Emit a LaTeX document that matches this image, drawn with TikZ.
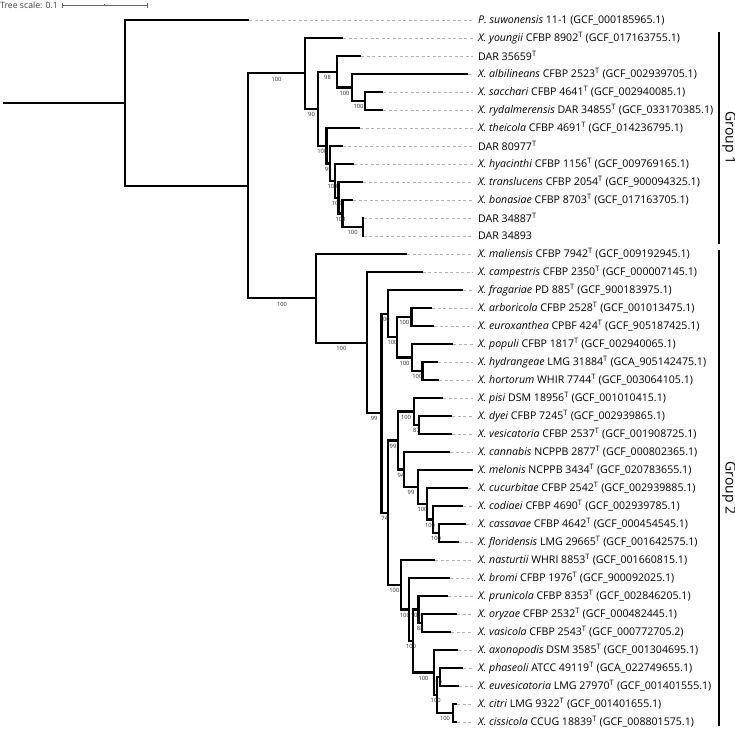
\documentclass[tikz,border=0pt]{standalone}
\usepackage{fontspec}
\setmainfont{Open Sans}
\newcommand\Tsup{\textsuperscript{T}}
\begin{document}
\begin{tikzpicture}[x=1pt,y=-1pt,
  br/.style={line width=2.2pt, black},
  dsh/.style={gray!60, line width=0.6pt, dash pattern=on 3pt off 2.5pt, shorten >=5pt},
  tip/.style={anchor=west, inner sep=0pt, font=\fontsize{10.6}{12}\selectfont},
  bs/.style={font=\fontsize{5.8}{6}\selectfont, text=black!85, inner sep=0pt, anchor=north, yshift=-3.3pt},
  grp/.style={font=\fontsize{14}{16}\selectfont, rotate=-90, inner sep=0pt},
  gbar/.style={line width=1.6pt, black}]
\useasboundingbox (0,0) rectangle (735,729);
\newcommand\brc[2]{\draw[br] (#1) |- (#2);}
\newcommand\bsv[3]{\path (#1 |- #2) -- node[bs]{#3} (#2);}
% ---- scale bar
\node[anchor=west, inner sep=0pt, font=\fontsize{8.7}{10}\selectfont, text=black!75] (scl) at (0,5) {Tree scale: 0.1};
\coordinate (sa) at (62,5); \coordinate (sb) at (147,5); \coordinate (sm) at (104.5,5);
\draw[gray!80!black, line width=0.7pt] (sa) -- (sb);
\draw[gray!80!black, line width=0.7pt] ([yshift=2.5pt]sa) -- ([yshift=-2.5pt]sa);
\draw[gray!80!black, line width=0.7pt] ([yshift=2.5pt]sb) -- ([yshift=-2.5pt]sb);
\draw[gray!80!black, line width=0.6pt] ([yshift=1.2pt]sm) -- ([yshift=-1.2pt]sm);
% ---- tips and labels
\foreach \n/\tx/\lab [count=\i from 0] in {
 t0/249/{\textit{P. suwonensis} 11-1 (GCF\_000185965.1)},
 t1/343/{\textit{X. youngii} CFBP 8902\Tsup{} (GCF\_017163755.1)},
 t2/361/{DAR 35659\Tsup},
 t3/468/{\textit{X. albilineans} CFBP 2523\Tsup{} (GCF\_002939705.1)},
 t4/383/{\textit{X. sacchari} CFBP 4641\Tsup{} (GCF\_002940085.1)},
 t5/383/{\textit{X. rydalmerensis} DAR 34855\Tsup{} (GCF\_033170385.1)},
 t6/360/{\textit{X. theicola} CFBP 4691\Tsup{} (GCF\_014236795.1)},
 t7/342.7/{DAR 80977\Tsup},
 t8/354/{\textit{X. hyacinthi} CFBP 1156\Tsup{} (GCF\_009769165.1)},
 t9/363/{\textit{X. translucens} CFBP 2054\Tsup{} (GCF\_900094325.1)},
 t10/353/{\textit{X. bonasiae} CFBP 8703\Tsup{} (GCF\_017163705.1)},
 t11/363.5/{DAR 34887\Tsup},
 t12/363.5/{DAR 34893},
 t13/407/{\textit{X. maliensis} CFBP 7942\Tsup{} (GCF\_009192945.1)},
 t14/422.7/{\textit{X. campestris} CFBP 2350\Tsup{} (GCF\_000007145.1)},
 t15/463/{\textit{X. fragariae} PD 885\Tsup{} (GCF\_900183975.1)},
 t16/432/{\textit{X. arboricola} CFBP 2528\Tsup{} (GCF\_001013475.1)},
 t17/434/{\textit{X. euroxanthea} CPBF 424\Tsup{} (GCF\_905187425.1)},
 t18/453/{\textit{X. populi} CFBP 1817\Tsup{} (GCF\_002940065.1)},
 t19/438/{\textit{X. hydrangeae} LMG 31884\Tsup{} (GCA\_905142475.1)},
 t20/439/{\textit{X. hortorum} WHIR 7744\Tsup{} (GCF\_003064105.1)},
 t21/443/{\textit{X. pisi} DSM 18956\Tsup{} (GCF\_001010415.1)},
 t22/452/{\textit{X. dyei} CFBP 7245\Tsup{} (GCF\_002939865.1)},
 t23/452/{\textit{X. vesicatoria} CFBP 2537\Tsup{} (GCF\_001908725.1)},
 t24/450/{\textit{X. cannabis} NCPPB 2877\Tsup{} (GCF\_000802365.1)},
 t25/473/{\textit{X. melonis} NCPPB 3434\Tsup{} (GCF\_020783655.1)},
 t26/468/{\textit{X. cucurbitae} CFBP 2542\Tsup{} (GCF\_002939885.1)},
 t27/463/{\textit{X. codiaei} CFBP 4690\Tsup{} (GCF\_002939785.1)},
 t28/466/{\textit{X. cassavae} CFBP 4642\Tsup{} (GCF\_000454545.1)},
 t29/459/{\textit{X. floridensis} LMG 29665\Tsup{} (GCF\_001642575.1)},
 t30/435/{\textit{X. nasturtii} WHRI 8853\Tsup{} (GCF\_001660815.1)},
 t31/450/{\textit{X. bromi} CFBP 1976\Tsup{} (GCF\_900092025.1)},
 t32/448/{\textit{X. prunicola} CFBP 8353\Tsup{} (GCF\_002846205.1)},
 t33/457/{\textit{X. oryzae} CFBP 2532\Tsup{} (GCF\_000482445.1)},
 t34/451/{\textit{X. vasicola} CFBP 2543\Tsup{} (GCF\_000772705.2)},
 t35/458/{\textit{X. axonopodis} DSM 3585\Tsup{} (GCF\_001304695.1)},
 t36/463/{\textit{X. phaseoli} ATCC 49119\Tsup{} (GCA\_022749655.1)},
 t37/459/{\textit{X. euvesicatoria} LMG 27970\Tsup{} (GCF\_001401555.1)},
 t38/457/{\textit{X. citri} LMG 9322\Tsup{} (GCF\_001401655.1)},
 t39/457/{\textit{X. cissicola} CCUG 18839\Tsup{} (GCF\_008801575.1)}}
{
 \pgfmathsetmacro\yy{20+18*\i}
 \coordinate (\n) at (\tx,\yy);
 \node[tip] (l\n) at (478,\yy) {\lab};
 \draw[dsh] (\n) -- (l\n.west);
}
% ---- internal nodes
\coordinate (root) at (3,102.9);
\coordinate (R) at (125,102.9);
\coordinate (A) at (248,185.8);
\coordinate (G1) at (305,73.37);
\coordinate (N90) at (318,108.73);
\coordinate (N98) at (337,71.75);
\coordinate (N352) at (352,87.5);
\coordinate (N365) at (365,101);
\coordinate (T1) at (326.5,145.72);
\coordinate (T2) at (330,163.44);
\coordinate (T3) at (335,180.875);
\coordinate (T4) at (338.5,197.75);
\coordinate (T5) at (342.5,213.5);
\coordinate (T6) at (362.7,227);
\coordinate (G2) at (316,298.3);
\coordinate (M) at (366.7,342.6);
\coordinate (N99) at (381.5,413.1);
\coordinate (P) at (388,313.6);
\coordinate (P2) at (397,337.25);
\coordinate (AE) at (411.5,317);
\coordinate (PHH) at (412,357.5);
\coordinate (HH) at (422.5,371);
\coordinate (Q) at (388,512.6);
\coordinate (X) at (398,440.5);
\coordinate (PDV) at (414,411.5);
\coordinate (DV) at (419,425);
\coordinate (CM) at (404,469.4);
\coordinate (MC) at (418,486.9);
\coordinate (CCCF) at (427,503.75);
\coordinate (CCF) at (433,519.5);
\coordinate (CF) at (439,533);
\coordinate (Y) at (400.7,584.75);
\coordinate (Z) at (409,609.5);
\coordinate (Z2) at (413,641);
\coordinate (PVO) at (418.5,609.5);
\coordinate (OV) at (422,623);
\coordinate (AX) at (434,672.5);
\coordinate (W) at (437.3,695);
\coordinate (U) at (440,677);
\coordinate (CC) at (452.7,713);
% ---- branches
\draw[br] (root) -- (R);
\brc{R}{t0}\brc{R}{A}
\brc{A}{G1}\brc{A}{G2}
\brc{G1}{t1}\brc{G1}{N90}
\brc{N90}{N98}\brc{N90}{T1}
\brc{N98}{t2}\brc{N98}{N352}
\brc{N352}{t3}\brc{N352}{N365}
\brc{N365}{t4}\brc{N365}{t5}
\brc{T1}{t6}\brc{T1}{T2}
\brc{T2}{t7}\brc{T2}{T3}
\brc{T3}{t8}\brc{T3}{T4}
\brc{T4}{t9}\brc{T4}{T5}
\brc{T5}{t10}\brc{T5}{T6}
\brc{T6}{t11}\brc{T6}{t12}
\brc{G2}{t13}\brc{G2}{M}
\brc{M}{t14}\brc{M}{N99}
\brc{N99}{P}\brc{N99}{Q}
\brc{P}{t15}\brc{P}{P2}
\brc{P2}{AE}\brc{P2}{PHH}
\brc{AE}{t16}\brc{AE}{t17}
\brc{PHH}{t18}\brc{PHH}{HH}
\brc{HH}{t19}\brc{HH}{t20}
\brc{Q}{X}\brc{Q}{Y}
\brc{X}{PDV}\brc{X}{CM}
\brc{PDV}{t21}\brc{PDV}{DV}
\brc{DV}{t22}\brc{DV}{t23}
\brc{CM}{t24}\brc{CM}{MC}
\brc{MC}{t25}\brc{MC}{CCCF}
\brc{CCCF}{t26}\brc{CCCF}{CCF}
\brc{CCF}{t27}\brc{CCF}{CF}
\brc{CF}{t28}\brc{CF}{t29}
\brc{Y}{t30}\brc{Y}{Z}
\brc{Z}{t31}\brc{Z}{Z2}
\brc{Z2}{PVO}\brc{Z2}{AX}
\brc{PVO}{t32}\brc{PVO}{OV}
\brc{OV}{t33}\brc{OV}{t34}
\brc{AX}{t35}\brc{AX}{W}
\brc{W}{U}\brc{W}{CC}
\brc{U}{t36}\brc{U}{t37}
\brc{CC}{t38}\brc{CC}{t39}
% ---- bootstrap values
\bsv{A}{G1}{100}\bsv{A}{G2}{100}
\bsv{G1}{N90}{90}\bsv{N90}{N98}{98}
\bsv{N98}{N352}{100}\bsv{N352}{N365}{100}
\bsv{N90}{T1}{100}\bsv{T1}{T2}{95}
\bsv{T2}{T3}{100}\bsv{T3}{T4}{100}
\bsv{T4}{T5}{100}\bsv{T5}{T6}{100}
\bsv{G2}{M}{100}\bsv{M}{N99}{99}
\bsv{N99}{P}{100}\bsv{P}{P2}{100}
\bsv{P2}{AE}{100}\bsv{P2}{PHH}{100}
\bsv{PHH}{HH}{100}\bsv{N99}{Q}{74}
\bsv{Q}{X}{99}\bsv{X}{PDV}{100}
\bsv{PDV}{DV}{87}\bsv{X}{CM}{94}
\bsv{CM}{MC}{99}\bsv{MC}{CCCF}{100}
\bsv{CCCF}{CCF}{100}\bsv{CCF}{CF}{100}
\bsv{Q}{Y}{100}\bsv{Y}{Z}{100}
\bsv{Z}{Z2}{100}\bsv{Z2}{PVO}{100}
\bsv{PVO}{OV}{88}\bsv{Z2}{AX}{100}
\bsv{AX}{W}{100}\bsv{W}{U}{59}
\bsv{W}{CC}{100}
% ---- groups
\coordinate (g1a) at (719,31.5); \coordinate (g1b) at (719,244);
\coordinate (g2a) at (719,249.5); \coordinate (g2b) at (719,726);
\draw[gbar] (g1a) -- (g1b);
\draw[gbar] (g2a) -- (g2b);
\node[grp] (gl1) at (729,138) {Group 1};
\node[grp] (gl2) at (729,488) {Group 2};
\end{tikzpicture}
\end{document}
